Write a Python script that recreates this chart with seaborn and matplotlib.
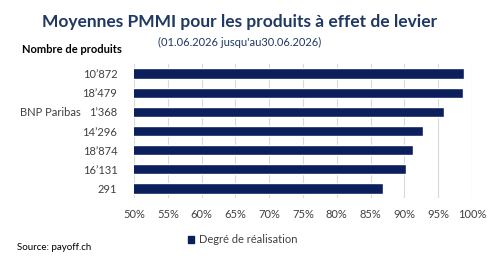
import seaborn as sns
import matplotlib.pyplot as plt
import pandas as pd
from matplotlib.patches import Patch

sns.set_theme(style="white")
plt.rcParams['font.family'] = ['Lato', 'DejaVu Sans']

# Data
products = ["10’872", "18’479", "1’368", "14’296", "18’874", "16’131", "291"]
realisation = [98.8, 98.7, 95.8, 92.7, 91.2, 90.2, 86.8]
issuer_label = "BNP Paribas"
ticks = [50, 55, 60, 65, 70, 75, 80, 85, 90, 95, 100]

navy = "#0a1f5c"
df = pd.DataFrame({"produits": products, "degre": realisation})

fig = plt.figure(figsize=(5, 2.6), dpi=100)
ax = fig.add_axes([0.268, 0.238, 0.676, 0.516])
sns.barplot(data=df, x="degre", y="produits", orient="h", color=navy,
            width=0.53, saturation=1, ax=ax)
ax.set_xlim(50, 100)
ax.set_xticks(ticks)
ax.set_xticklabels([f"{t}%" for t in ticks], fontsize=8, color="#404040")
ax.set_yticklabels(products, fontsize=8, color="#404040")
ax.set_xlabel("")
ax.set_ylabel("")
ax.tick_params(axis="both", length=0, pad=8)
ax.tick_params(axis="y", pad=12)
for s in ax.spines.values():
    s.set_visible(False)
ax.grid(axis="x", color="#d9d9d9", lw=0.8)
ax.set_axisbelow(True)

fig.text(0.1, 1 - 112 / 260, issuer_label, fontsize=8, color="#404040",
         ha="center", va="center")
fig.text(0.48, 0.915, "Moyennes PMMI pour les produits à effet de levier",
         fontsize=12.5, fontweight="bold", color="#1f3864", ha="center", va="center")
fig.text(0.48, 0.838, "(01.06.2026 jusqu'au30.06.2026)", fontsize=8,
         color="#1f3864", ha="center", va="center")
fig.text(0.044, 0.808, "Nombre de produits", fontsize=8, fontweight="bold",
         color="black", ha="left", va="center")
fig.text(0.034, 0.05, "Source: payoff.ch", fontsize=7, color="black",
         ha="left", va="center")
fig.legend(handles=[Patch(color=navy, label="Degré de réalisation")],
           loc="center", bbox_to_anchor=(0.485, 0.078), frameon=False,
           fontsize=8, handlelength=0.6, handleheight=0.6, handletextpad=0.4,
           labelcolor="#404040")

fig.savefig("out.png", dpi=100)
